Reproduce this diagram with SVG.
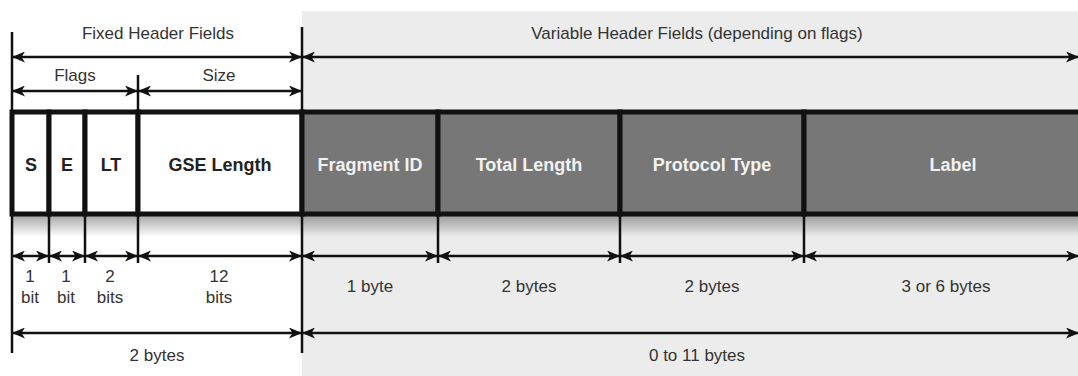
<svg xmlns="http://www.w3.org/2000/svg" width="1078" height="376" viewBox="0 0 1078 376">
<defs>
<marker id="ah" viewBox="0 0 13 11" refX="12" refY="5.5" markerWidth="13" markerHeight="11" markerUnits="userSpaceOnUse" orient="auto-start-reverse">
<path d="M0,0 L13,5.5 L0,11 L3.5,5.5 Z" fill="#111"/>
</marker>
<linearGradient id="sh" x1="0" y1="0" x2="0" y2="1">
<stop offset="0" stop-color="#000" stop-opacity="0.35"/>
<stop offset="1" stop-color="#000" stop-opacity="0"/>
</linearGradient>
<style>
.t{font-family:"Liberation Sans",Arial,sans-serif;font-size:17px;fill:#333;text-anchor:middle}
.b{font-family:"Liberation Sans",Arial,sans-serif;font-size:18px;font-weight:bold;text-anchor:middle}
.dk{fill:#222}
.lt{fill:#f2f2f2}
.w{fill:#fff;stroke:#111;stroke-width:5}
.g{fill:#777;stroke:#111;stroke-width:5}
.ar{stroke:#111;stroke-width:2.5;fill:none;marker-start:url(#ah);marker-end:url(#ah)}
.tk{stroke:#111;stroke-width:2.5;fill:none}
</style>
</defs>
<rect x="0" y="0" width="1078" height="376" fill="#fff"/>
<rect x="302" y="11" width="776" height="365" fill="#ececec"/>
<g id="shadow"><rect x="12" y="215" width="1066" height="22" fill="url(#sh)"/></g>
<g id="node-s"><rect class="w" x="12" y="112" width="37" height="102"/><text class="b dk" x="31" y="171">S</text></g>
<g id="node-e"><rect class="w" x="49" y="112" width="36" height="102"/><text class="b dk" x="67" y="171">E</text></g>
<g id="node-lt"><rect class="w" x="85" y="112" width="53" height="102"/><text class="b dk" x="111" y="171">LT</text></g>
<g id="node-gse"><rect class="w" x="138" y="112" width="164" height="102"/><text class="b dk" x="220" y="171">GSE Length</text></g>
<g id="node-frag"><rect class="g" x="302" y="112" width="136" height="102"/><text class="b lt" x="370" y="171">Fragment ID</text></g>
<g id="node-total"><rect class="g" x="438" y="112" width="182" height="102"/><text class="b lt" x="529" y="171">Total Length</text></g>
<g id="node-proto"><rect class="g" x="620" y="112" width="184" height="102"/><text class="b lt" x="712" y="171">Protocol Type</text></g>
<g id="node-label"><rect class="g" x="804" y="112" width="300" height="102"/><text class="b lt" x="953" y="171">Label</text></g>
<g id="connectors">
<line class="tk" x1="12" y1="32" x2="12" y2="353"/>
<line class="tk" x1="302" y1="27" x2="302" y2="353"/>
<line class="tk" x1="138" y1="75" x2="138" y2="112"/>
<line class="tk" x1="49" y1="214" x2="49" y2="263"/>
<line class="tk" x1="85" y1="214" x2="85" y2="263"/>
<line class="tk" x1="138" y1="214" x2="138" y2="263"/>
<line class="tk" x1="438" y1="214" x2="438" y2="263"/>
<line class="tk" x1="620" y1="214" x2="620" y2="263"/>
<line class="tk" x1="804" y1="214" x2="804" y2="263"/>
<line class="ar" x1="13" y1="57" x2="301" y2="57"/>
<line class="ar" x1="303" y1="57" x2="1078" y2="57"/>
<line class="ar" x1="13" y1="91" x2="137" y2="91"/>
<line class="ar" x1="139" y1="91" x2="301" y2="91"/>
<line class="ar" x1="13" y1="256" x2="48" y2="256"/>
<line class="ar" x1="50" y1="256" x2="84" y2="256"/>
<line class="ar" x1="86" y1="256" x2="137" y2="256"/>
<line class="ar" x1="139" y1="256" x2="301" y2="256"/>
<line class="ar" x1="303" y1="256" x2="437" y2="256"/>
<line class="ar" x1="439" y1="256" x2="619" y2="256"/>
<line class="ar" x1="621" y1="256" x2="803" y2="256"/>
<line class="ar" x1="805" y1="256" x2="1078" y2="256"/>
<line class="ar" x1="13" y1="333" x2="301" y2="333"/>
<line class="ar" x1="303" y1="333" x2="1078" y2="333"/>
</g>
<g id="labels">
<text class="t" x="158" y="39">Fixed Header Fields</text>
<text class="t" x="697" y="39">Variable Header Fields (depending on flags)</text>
<text class="t" x="75" y="81">Flags</text>
<text class="t" x="219" y="81">Size</text>
<text class="t" x="30" y="282">1</text>
<text class="t" x="30" y="303">bit</text>
<text class="t" x="66" y="282">1</text>
<text class="t" x="66" y="303">bit</text>
<text class="t" x="110" y="282">2</text>
<text class="t" x="110" y="303">bits</text>
<text class="t" x="219" y="282">12</text>
<text class="t" x="219" y="303">bits</text>
<text class="t" x="370" y="292">1 byte</text>
<text class="t" x="529" y="292">2 bytes</text>
<text class="t" x="712" y="292">2 bytes</text>
<text class="t" x="946" y="292">3 or 6 bytes</text>
<text class="t" x="157" y="361">2 bytes</text>
<text class="t" x="697" y="361">0 to 11 bytes</text>
</g>
</svg>
